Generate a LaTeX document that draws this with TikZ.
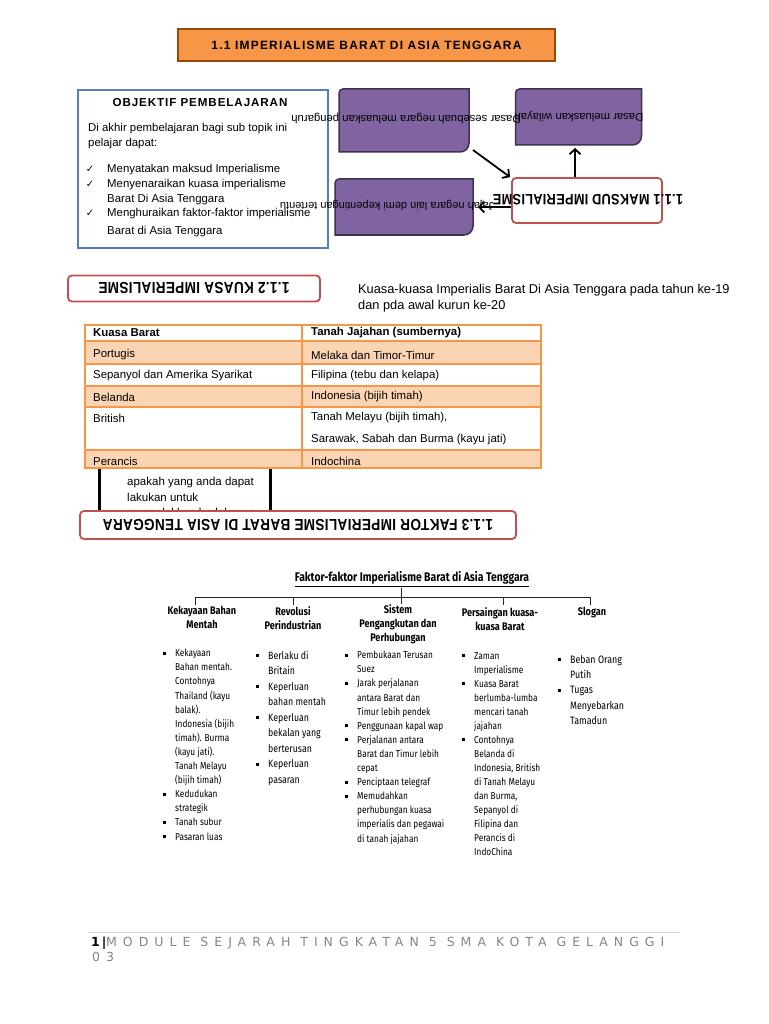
\documentclass[tikz,border=0pt]{standalone}
\usepackage{fontspec}
\setmainfont{Liberation Sans}
\newfontfamily\cond[FakeStretch=0.83]{Fira Sans}
\newfontfamily\dejavu{DejaVu Sans}
\newfontfamily\footfont[LetterSpace=48]{DejaVu Sans}
\newfontfamily\hdfont[FakeStretch=0.85,LetterSpace=2]{Liberation Sans}
\newfontfamily\ttlfont[LetterSpace=10]{Liberation Sans}
\newfontfamily\objfont[LetterSpace=8]{Liberation Sans}
\usetikzlibrary{arrows.meta}
\definecolor{orgfill}{HTML}{F79646}
\definecolor{orgdraw}{HTML}{984807}
\definecolor{bluedraw}{HTML}{4F81BD}
\definecolor{purfill}{HTML}{8064A2}
\definecolor{purdraw}{HTML}{3F3151}
\definecolor{reddraw}{HTML}{C0504D}
\definecolor{tabline}{HTML}{F79646}
\definecolor{tabfill}{HTML}{FBD4B4}
\definecolor{footgray}{HTML}{868686}
\definecolor{footline}{HTML}{D9D9D9}
\newcommand{\fs}[2]{\fontsize{#1}{#2}\selectfont}
\newcommand{\bul}{\llap{\rule[2pt]{3pt}{3pt}\hspace{9pt}}}
\newcommand{\chk}{\llap{{\dejavu\fs{10}{10}✓}\hspace{13pt}}}
\tikzset{
  area/.style={inner sep=0pt, outer sep=0pt},
  purshape/.style={fill=purfill, draw=purdraw, line width=1.5pt},
  redbox/.style={draw=reddraw, fill=white, line width=1.8pt, rounded corners=4pt, inner sep=0pt},
  flip/.style={rotate=180, inner sep=0pt, anchor=center},
  txt/.style={inner sep=0pt, anchor=west},
  objtxt/.style={inner sep=0pt, anchor=west, font=\fs{11.4}{15}},
  arr/.style={line width=1.8pt, -{Straight Barb[length=5pt,width=11pt]}},
  chartline/.style={line width=0.9pt, draw=black!85},
  head/.style={inner sep=0pt, align=center, font=\cond\bfseries\fs{11}{14.2}},
  col/.style={inner sep=0pt, anchor=north west, align=left}
}
\begin{document}
\begin{tikzpicture}[x=1pt,y=-1pt]
\useasboundingbox[fill=white] (0,0) rectangle (768,1024);

% title
\node[fill=orgfill, draw=orgdraw, line width=2pt, minimum width=377pt, minimum height=32pt, inner sep=0pt,
  font=\ttlfont\bfseries\fs{12}{14}] (title) at (366.5,45) {1.1 IMPERIALISME BARAT DI ASIA TENGGARA};

% objectives box
\node[draw=bluedraw, line width=1.8pt, minimum width=250pt, minimum height=158pt, area] (obj) at (203,169) {};
\node[inner sep=0pt, font=\objfont\bfseries\fs{11.6}{13}] (objt) at (200,103) {OBJEKTIF PEMBELAJARAN};
\node[objtxt, align=left, anchor=north west] (obj1) at (88,123) {Di akhir pembelajaran bagi sub topik ini\\pelajar dapat:};
\node[objtxt] (o1) at (107,170) {\chk Menyatakan maksud Imperialisme};
\node[objtxt] (o2) at (107,185) {\chk Menyenaraikan kuasa imperialisme};
\node[objtxt] (o3) at (107,200) {Barat Di Asia Tenggara};
\node[objtxt] (o4) at (107,214) {\chk Menghuraikan faktor-faktor imperialisme};
\node[objtxt] (o5) at (107,232) {Barat di Asia Tenggara};

% purple boxes
\node[area, minimum width=130pt, minimum height=63pt] (A) at (404,120.5) {};
\node[area, minimum width=126pt, minimum height=56pt] (B) at (578.5,117) {};
\node[area, minimum width=138pt, minimum height=56pt] (D) at (404,207) {};
\foreach \b in {A,B,D}{
  \path[purshape] (\b.west) [rounded corners=4pt] -- (\b.north west) -- (\b.north) [sharp corners] -- (\b.north east) -- (\b.east)
     [rounded corners=9pt] -- (\b.south east) -- (\b.south) [sharp corners] -- (\b.south west) -- cycle;
}
\node[redbox, minimum width=150pt, minimum height=45pt] (C) at (587,200.5) {};

\node[flip, font=\fs{11.3}{13}] (At) at (406,118) {Dasar sesebuah negara meluaskan pengaruh};
\node[flip, font=\fs{11.3}{13}] (Bt) at (579,116) {Dasar meluaskan wilayah};
\node[flip, font=\fs{11}{13}] (Dt) at (387,205) {Jajah negara lain demi kepentingan tertentu};
\node[flip, font=\hdfont\bfseries\fs{15}{17}] (Ct) at (588,200) {1.1.1 MAKSUD IMPERIALISME};

\draw[arr] ([xshift=4pt,yshift=2pt]A.south east) -- ([xshift=-1pt]C.north west);
\draw[arr] ([xshift=-12pt]C.north) -- ([xshift=-12pt,yshift=-3pt]C.north |- B.south);
\draw[arr] ([yshift=-6.5pt]C.west) -- ([xshift=5pt]D.east);

% 1.1.2
\node[redbox, flip, minimum width=252pt, minimum height=26pt, font=\hdfont\bfseries\fs{16}{18}] (K) at (194,288.5) {1.1.2 KUASA IMPERIALISME};
\node[txt, font=\fs{12.8}{16}, align=left, anchor=north west] (kt) at (358,284) {Kuasa-kuasa Imperialis Barat Di Asia Tenggara pada tahun ke-19\\dan pda awal kurun ke-20};

% hidden black box behind table
\node[txt, font=\fs{11.5}{15.5}, align=left, anchor=north west] (bb) at (127,477) {apakah yang anda dapat\\lakukan untuk\\mengelakkan berlakunya};
\draw[line width=3pt] (99,462) -- (99,512);
\draw[line width=3pt] (270,462) -- (270,512);

% table
\fill[white] (85,325) rectangle (541,468);
\fill[tabfill] (85,341) rectangle (541,364);
\fill[tabfill] (85,386) rectangle (541,407);
\fill[tabfill] (85,450) rectangle (541,468);
\draw[tabline, line width=1.3pt] (85,325) rectangle (541,468);
\foreach \yy in {341,364,386,407,450}{\draw[tabline, line width=1.3pt] (85,\yy) -- (541,\yy);}
\draw[tabline, line width=1.3pt] (302,325) -- (302,468);
\begin{scope}[every node/.style={txt, font=\fs{11.4}{13}}]
\node (t01) at (93,333) {\bfseries Kuasa Barat};
\node (t02) at (311,333) {\bfseries Tanah Jajahan (sumbernya)};
\node (t11) at (93,355) {Portugis};
\node (t12) at (311,355) {Melaka dan Timor-Timur};
\node (t21) at (93,376) {Sepanyol dan Amerika Syarikat};
\node (t22) at (311,376) {Filipina (tebu dan kelapa)};
\node (t31) at (93,397) {Belanda};
\node (t32) at (311,397) {Indonesia (bijih timah)};
\node (t41) at (93,418) {British};
\node (t42) at (311,418) {Tanah Melayu (bijih timah),};
\node (t43) at (311,440) {Sarawak, Sabah dan Burma (kayu jati)};
\node (t51) at (93,461) {Perancis};
\node (t52) at (311,461) {Indochina};
\end{scope}

% 1.1.3
\node[redbox, flip, minimum width=436pt, minimum height=28pt, font=\hdfont\bfseries\fs{16}{18}] (F) at (298,525) {1.1.3 FAKTOR IMPERIALISME BARAT DI ASIA TENGGARA};

% chart
\node[inner sep=0pt, font=\cond\bfseries\fs{12.5}{14}] (T) at (412,579) {\underline{Faktor-faktor Imperialisme Barat di Asia Tenggara}};
\node[head, anchor=north] (h1) at (202,606) {Kekayaan Bahan\\Mentah};
\node[head, anchor=north] (h2) at (293,606) {Revolusi\\Perindustrian};
\node[head, anchor=north] (h3) at (398,604) {Sistem\\Pengangkutan dan\\Perhubungan};
\node[head, anchor=north] (h4) at (500,607) {Persaingan kuasa-\\kuasa Barat};
\node[head, anchor=north] (h5) at (592,607) {Slogan};
\coordinate (bus) at (401,597);
\draw[chartline] ([yshift=-1pt]T.south -| bus) -- (bus |- h3.north);
\foreach \n/\xx in {h1/195,h2/293,h4/503,h5/590}{
  \draw[chartline] (\xx,605) coordinate (d\n) -- (d\n |- bus) -- (bus);
}

\node[col, font=\cond\fs{10}{14.1}] (c1) at (175,649) {\bul Kekayaan\\Bahan mentah.\\Contohnya\\Thailand (kayu\\balak).\\Indonesia (bijih\\timah). Burma\\(kayu jati).\\Tanah Melayu\\(bijih timah)\\\bul Kedudukan\\strategik\\\bul Tanah subur\\\bul Pasaran luas};
\node[col, font=\cond\fs{10.6}{15.5}] (c2) at (268,651) {\bul Berlaku di\\Britain\\\bul Keperluan\\bahan mentah\\\bul Keperluan\\bekalan yang\\berterusan\\\bul Keperluan\\pasaran};
\node[col, font=\cond\fs{10}{14.1}] (c3) at (357,651) {\bul Pembukaan Terusan\\Suez\\\bul Jarak perjalanan\\antara Barat dan\\Timur lebih pendek\\\bul Penggunaan kapal wap\\\bul Perjalanan antara\\Barat dan Timur lebih\\cepat\\\bul Penciptaan telegraf\\\bul Memudahkan\\perhubungan kuasa\\imperialis dan pegawai\\di tanah jajahan};
\node[col, font=\cond\fs{10}{14}] (c4) at (474,652) {\bul Zaman\\Imperialisme\\\bul Kuasa Barat\\berlumba-lumba\\mencari tanah\\jajahan\\\bul Contohnya\\Belanda di\\Indonesia, British\\di Tanah Melayu\\dan Burma,\\Sepanyol di\\Filipina dan\\Perancis di\\IndoChina};
\node[col, font=\cond\fs{10.7}{15.3}] (c5) at (570,655) {\bul Beban Orang\\Putih\\\bul Tugas\\Menyebarkan\\Tamadun};

% footer
\draw[footline, line width=0.8pt] (88,932) -- (680,932);
\node[txt, font=\dejavu\bfseries\fs{12.5}{14}] (pg) at (91,943) {1\,|};
\node[txt, font=\footfont\fs{12.5}{14}, text=footgray] (ft1) at (106,943) {MODULE SEJARAH TINGKATAN 5 SMA KOTA GELANGGI};
\node[txt, font=\footfont\fs{12.5}{14}, text=footgray] (ft2) at (92,957) {03};
\end{tikzpicture}
\end{document}
